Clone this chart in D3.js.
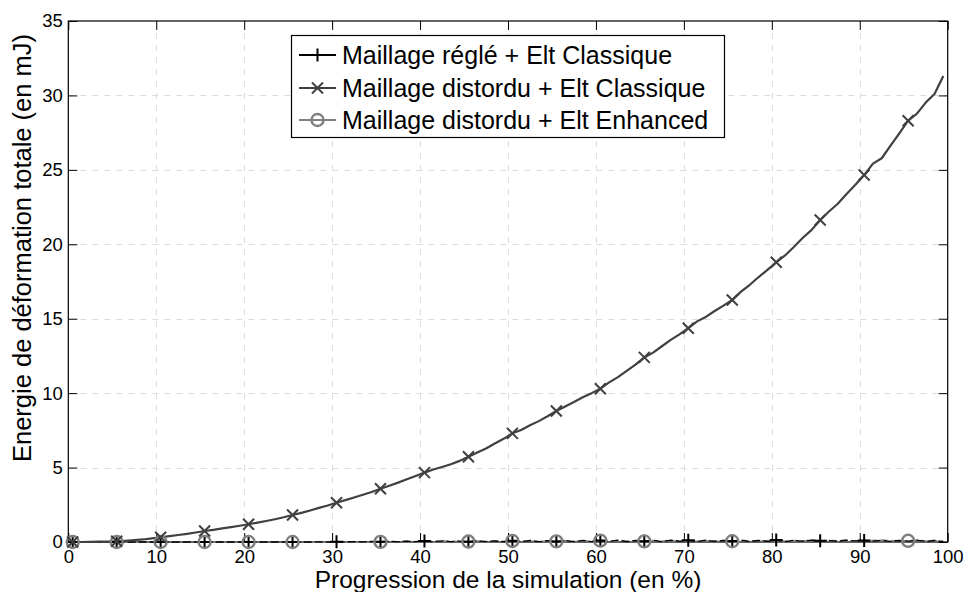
<!DOCTYPE html>
<html>
<head>
<meta charset="utf-8">
<script src="https://cdn.jsdelivr.net/npm/d3@7/dist/d3.min.js"></script>
<style>
html,body{margin:0;padding:0;background:#fff;}
svg{display:block;font-family:"Liberation Sans",Arial,sans-serif;}
</style>
</head>
<body>
<svg id="chart" width="964" height="592"></svg>
<script>
// ---- Data ----
const xTicks = [0,10,20,30,40,50,60,70,80,90,100];
const yTicks = [0,5,10,15,20,25,30,35];
const xLabel = "Progression de la simulation (en %)";
const yLabel = "Energie de déformation totale (en mJ)";
const seriesNames = ["Maillage réglé + Elt Classique","Maillage distordu + Elt Classique","Maillage distordu + Elt Enhanced"];

// sample positions (%)
const progress = [0.5,1.5,2.5,3.5,4.5,5.5,6.5,7.5,8.5,9.5,10.5,11.5,12.5,13.5,14.5,15.5,16.5,17.5,18.5,19.5,
20.5,21.5,22.5,23.5,24.5,25.5,26.5,27.5,28.5,29.5,30.5,31.5,32.5,33.5,34.5,35.5,36.5,37.5,38.5,39.5,
40.5,41.5,42.5,43.5,44.5,45.5,46.5,47.5,48.5,49.5,50.5,51.5,52.5,53.5,54.5,55.5,56.5,57.5,58.5,59.5,
60.5,61.5,62.5,63.5,64.5,65.5,66.5,67.5,68.5,69.5,70.5,71.5,72.5,73.5,74.5,75.5,76.5,77.5,78.5,79.5,
80.5,81.5,82.5,83.5,84.5,85.5,86.5,87.5,88.5,89.5,90.5,91.5,92.5,93.5,94.5,95.5,96.5,97.5,98.5,99.5];

// Maillage réglé + Elt Classique (near zero, noisy)
const energyRegle = [0,0,0,0,0,0,0,0,0,0,0,0,0,0,0,0,0,0,0,0,
0,0,0,0,0,0,0,0,0.01,0,0.02,0.01,0.03,0.01,0.04,0.02,0.05,0.01,0.06,0.02,
0.07,0.02,0.08,0.03,0.06,0.02,0.09,0.03,0.07,0.02,0.08,0.03,0.1,0.02,0.09,0.04,0.1,0.02,0.11,0.03,
0.1,0.04,0.12,0.03,0.1,0.05,0.12,0.02,0.13,0.05,0.11,0.03,0.12,0.04,0.1,0.06,0.12,0.03,0.1,0.05,
0.13,0.03,0.11,0.06,0.12,0.08,0.1,0.05,0.12,0.07,0.1,0.06,0.11,0.04,0.1,0.06,0.12,0.04,0.1,0.03];

// Maillage distordu + Elt Classique
const energyDistClassique = [0,0,0.01,0.02,0.03,0.05,0.08,0.12,0.17,0.24,
0.32,0.39,0.47,0.55,0.64,0.74,0.82,0.91,1.00,1.09,
1.19,1.30,1.41,1.53,1.66,1.81,1.96,2.12,2.29,2.45,
2.64,2.81,2.99,3.17,3.36,3.58,3.78,3.99,4.21,4.43,
4.66,4.87,5.04,5.22,5.45,5.73,6.02,6.28,6.62,6.93,
7.30,7.52,7.84,8.12,8.45,8.80,9.10,9.40,9.72,10.00,
10.30,10.72,11.08,11.50,11.92,12.40,12.72,13.15,13.58,13.95,
14.36,14.82,15.12,15.52,15.88,16.26,16.82,17.28,17.80,18.28,
18.79,19.25,19.82,20.42,20.95,21.63,22.20,22.72,23.38,24.00,
24.65,25.42,25.78,26.62,27.45,28.30,28.78,29.52,30.10,31.30];

// Maillage distordu + Elt Enhanced (near zero, noisy)
const energyDistEnhanced = [0,0,0,0,0,0,0,0,0,0,0,0,0,0,0,0,0,0,0,0,
0,0,0,0,0,0,0,0,0,0.01,0,0.01,0.02,0,0.02,0.01,0.03,0.01,0.04,0.02,
0.05,0.01,0.06,0.02,0.05,0.03,0.07,0.02,0.06,0.04,0.07,0.02,0.08,0.03,0.07,0.04,0.09,0.03,0.08,0.05,
0.09,0.03,0.1,0.05,0.08,0.04,0.1,0.06,0.09,0.04,0.11,0.05,0.09,0.07,0.1,0.05,0.12,0.06,0.1,0.07,
0.12,0.05,0.1,0.07,0.13,0.06,0.11,0.08,0.12,0.06,0.1,0.09,0.13,0.07,0.11,0.08,0.12,0.06,0.1,0.05];

// marker positions (% progression) for each series
const markersRegle = [0.5,5.5,10.5,15.5,20.5,25.5,30.5,35.5,40.5,45.5,50.5,55.5,60.5,65.5,70.5,75.5,80.5,85.5,90.5];
const markersDistClassique = [0.5,5.5,10.5,15.5,20.5,25.5,30.5,35.5,40.5,45.5,50.5,55.5,60.5,65.5,70.5,75.5,80.5,85.5,90.5,95.5];
const markersDistEnhanced = [0.5,5.5,10.5,15.5,20.5,25.5,35.5,45.5,50.5,55.5,60.5,65.5,75.5,95.5];

// ---- Chart ----
const svg = d3.select("#chart");
const L = 68.3, R = 947.7, T = 21, B = 542;
const x = d3.scaleLinear().domain([0,100]).range([L,R]);
const y = d3.scaleLinear().domain([0,35]).range([B,T]);

// grid
const grid = svg.append("g").attr("stroke","#dcdcdc").attr("stroke-width",1).attr("stroke-dasharray","6,6");
grid.selectAll(".gx").data(xTicks.slice(1,-1)).join("line")
  .attr("x1",d=>Math.round(x(d))+0.5).attr("x2",d=>Math.round(x(d))+0.5).attr("y1",T).attr("y2",B);
grid.selectAll(".gy").data(yTicks.slice(1,-1)).join("line")
  .attr("y1",d=>Math.round(y(d))+0.5).attr("y2",d=>Math.round(y(d))+0.5).attr("x1",L).attr("x2",R);

// axes with inward ticks
const tickLen = 9;
const fs = 18.5;
const axB = svg.append("g").attr("transform",`translate(0,${B})`)
  .call(d3.axisBottom(x).tickValues(xTicks).tickSize(-tickLen).tickPadding(8).tickFormat(d3.format("d")));
const axT = svg.append("g").attr("transform",`translate(0,${T})`)
  .call(d3.axisTop(x).tickValues(xTicks).tickSize(-tickLen).tickFormat(""));
const axL = svg.append("g").attr("transform",`translate(${L},0)`)
  .call(d3.axisLeft(y).tickValues(yTicks).tickSize(-tickLen).tickPadding(5.5).tickFormat(d3.format("d")));
const axR = svg.append("g").attr("transform",`translate(${R},0)`)
  .call(d3.axisRight(y).tickValues(yTicks).tickSize(-tickLen).tickFormat(""));
[axB,axT,axL,axR].forEach(a=>{
  a.select(".domain").remove();
  a.selectAll(".tick line").attr("stroke","#000").attr("stroke-width",1);
  a.selectAll("text").attr("font-size",fs).attr("fill","#000").attr("font-family","Liberation Sans, Arial, sans-serif");
});
// frame
svg.append("rect").attr("x",L).attr("y",T).attr("width",R-L).attr("height",B-T)
  .attr("fill","none").attr("stroke","#000").attr("stroke-width",1.2);

const plot = svg.append("g");
const line = d3.line().x(d=>x(d[0])).y(d=>y(d[1]));
const zip = vals => progress.map((p,i)=>[p,vals[i]]);

const styles = [
  {vals:energyRegle, color:"#000000", w:1.3, dash:"8,3", markers:markersRegle, type:"plus"},
  {vals:energyDistClassique, color:"#404040", w:2.2, dash:null, markers:markersDistClassique, type:"x"},
  {vals:energyDistEnhanced, color:"#7f7f7f", w:1.6, dash:"6,4", markers:markersDistEnhanced, type:"circle"}
];

function drawMarker(g, type, cx, cy, color){
  if(type==="plus"){
    g.append("path").attr("d",`M${cx-6.5},${cy}H${cx+6.5}M${cx},${cy-6.5}V${cy+6.5}`)
      .attr("stroke",color).attr("stroke-width",2).attr("fill","none");
  } else if(type==="x"){
    g.append("path").attr("d",`M${cx-5.5},${cy-5.5}L${cx+5.5},${cy+5.5}M${cx-5.5},${cy+5.5}L${cx+5.5},${cy-5.5}`)
      .attr("stroke",color).attr("stroke-width",2).attr("fill","none");
  } else {
    g.append("circle").attr("cx",cx).attr("cy",cy).attr("r",6)
      .attr("stroke",color).attr("stroke-width",2.4).attr("fill","none");
  }
}

[2,0,1].forEach(k=>{
  const s = styles[k];
  plot.append("path").datum(zip(s.vals)).attr("d",line)
    .attr("fill","none").attr("stroke",s.color).attr("stroke-width",s.w)
    .attr("stroke-dasharray",s.dash).attr("stroke-linejoin","round");
});
[0,2,1].forEach(k=>{
  const s = styles[k];
  const g = plot.append("g");
  s.markers.forEach(m=>{
    const i = progress.indexOf(m);
    drawMarker(g, s.type, x(m), y(s.vals[i]), s.color);
  });
});

// axis titles
svg.append("text").attr("x",(L+R)/2).attr("y",588).attr("text-anchor","middle")
  .attr("font-size",24.5).attr("fill","#000").text(xLabel);
svg.append("text").attr("transform",`translate(31,248) rotate(-90)`).attr("text-anchor","middle")
  .attr("font-size",25.5).attr("fill","#000").text(yLabel);

// legend
const lg = svg.append("g");
lg.append("rect").attr("x",291.5).attr("y",35.5).attr("width",433).attr("height",102)
  .attr("fill","#fff").attr("stroke","#000").attr("stroke-width",1.2);
const rowsY = [55,88,120];
styles.forEach((s,k)=>{
  const yy = rowsY[k];
  lg.append("line").attr("x1",299).attr("x2",336).attr("y1",yy).attr("y2",yy)
    .attr("stroke",s.color).attr("stroke-width",2);
  drawMarker(lg, s.type, 317.5, yy, s.color);
  lg.append("text").attr("x",342).attr("y",yy).attr("dy","0.36em")
    .attr("font-size",25).attr("fill","#000").text(seriesNames[k]);
});
</script>
</body>
</html>
